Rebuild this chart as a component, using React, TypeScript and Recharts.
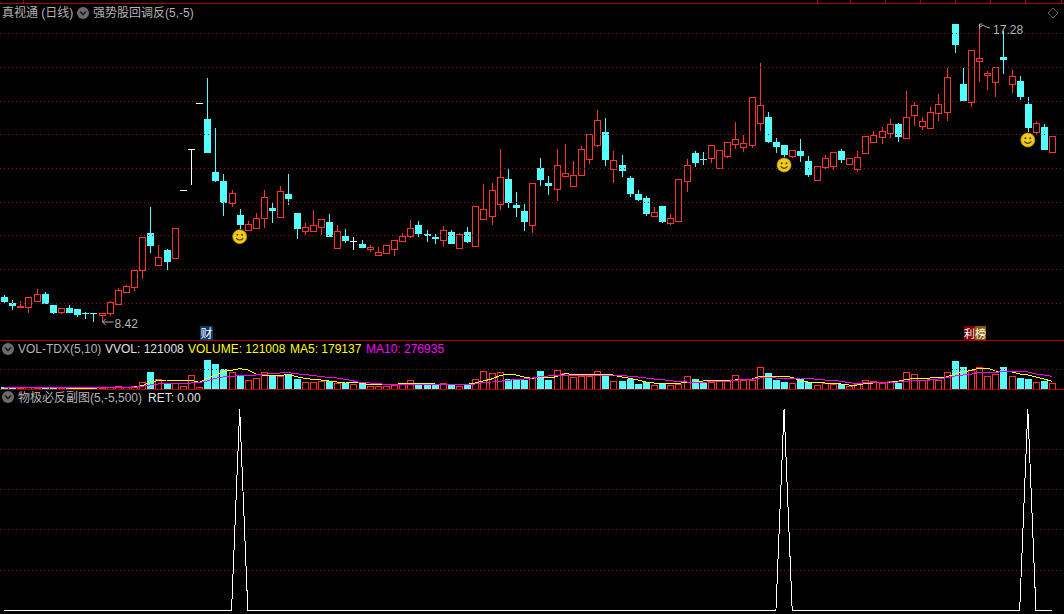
import React from 'react';
import {
  Bar,
  ComposedChart,
  Line,
  ReferenceDot,
  ReferenceLine,
  XAxis,
  YAxis,
} from 'recharts';

const highs = [
  9.23, 9.08, 9.05, 9.16, 9.41, 9.31, 8.93, 8.83, 8.93, 8.81,
  8.71, 8.69, 8.7, 9.05, 9.43, 9.52, 9.98, 10.96, 11.87, 10.72,
  10.61, 11.23, 12.37, 13.6, 14.98, 15.74, 14.24, 12.86, 12.37, 11.8,
  11.44, 11.68, 12.37, 12.02, 12.49, 12.86, 11.69, 11.38, 11.78, 11.5,
  11.66, 11.33, 11.21, 10.98, 10.88, 10.73, 10.66, 10.72, 10.87, 11.09,
  11.48, 11.45, 11.18, 11.06, 11.3, 11.18, 11.08, 11.27, 11.89, 12.56,
  12.59, 13.61, 13.04, 12.32, 11.96, 12.58, 13.34, 12.8, 13.61, 13.76,
  13.25, 13.7, 14.05, 14.78, 14.54, 13.55, 13.43, 12.8, 12.38, 12.2,
  11.87, 11.9, 11.66, 12.7, 13.31, 13.55, 13.52, 13.72, 13.57, 13.81,
  14.42, 14.03, 15.16, 16.19, 14.72, 13.93, 13.73, 13.58, 13.91, 13.4,
  13.09, 13.43, 13.51, 13.61, 13.33, 13.55, 14.0, 14.15, 14.27, 14.51,
  14.39, 15.35, 15.02, 14.57, 14.87, 15.26, 16.04, 17.36, 16.04, 16.57,
  17.36, 15.95, 16.06, 17.15, 15.99, 15.8, 15.17, 14.45, 14.36, 14.0,
];
const opens = [
  9.18, 8.99, 8.86, 8.86, 9.06, 9.26, 8.93, 8.71, 8.83, 8.81,
  8.7, 8.69, 8.64, 8.68, 8.97, 9.33, 9.46, 9.97, 11.09, 10.14,
  10.58, 10.33, 12.37, 13.6, 14.98, 14.51, 12.91, 12.64, 12.0, 11.63,
  11.19, 11.25, 11.53, 11.84, 11.58, 12.26, 11.69, 11.14, 11.16, 11.26,
  11.42, 10.65, 11.0, 10.84, 10.76, 10.62, 10.44, 10.5, 10.62, 10.86,
  11.01, 11.33, 11.06, 10.97, 10.89, 11.12, 10.65, 11.12, 10.71, 11.52,
  11.61, 11.97, 12.71, 11.93, 11.75, 11.34, 13.04, 12.59, 12.42, 12.81,
  12.51, 12.84, 13.32, 13.74, 14.12, 13.02, 13.13, 12.74, 12.26, 12.14,
  11.61, 11.9, 11.4, 11.46, 12.66, 13.49, 13.32, 13.35, 13.05, 13.41,
  13.77, 13.68, 13.74, 14.4, 14.57, 13.82, 13.73, 13.4, 13.55, 13.25,
  12.69, 13.08, 13.11, 13.55, 13.17, 13.02, 13.5, 13.83, 13.98, 14.1,
  14.36, 13.95, 14.64, 14.31, 14.24, 14.7, 14.73, 17.36, 15.56, 15.03,
  16.25, 15.83, 15.63, 16.37, 15.57, 15.65, 14.96, 14.12, 14.27, 13.52,
];
const closes = [
  9.03, 8.91, 8.9, 9.16, 9.25, 8.97, 8.7, 8.83, 8.7, 8.63,
  8.69, 8.68, 8.69, 9.03, 9.37, 9.49, 9.97, 10.96, 10.71, 10.36,
  10.23, 11.23, 12.37, 13.6, 14.98, 13.5, 12.66, 12.0, 12.28, 11.34,
  11.35, 11.53, 12.16, 11.76, 12.34, 12.12, 11.22, 11.26, 11.32, 11.5,
  10.98, 11.14, 10.86, 10.84, 10.64, 10.67, 10.51, 10.72, 10.87, 10.99,
  11.23, 11.06, 11.0, 10.92, 11.17, 10.76, 11.05, 10.82, 11.89, 11.8,
  12.37, 12.76, 11.99, 11.84, 11.42, 12.58, 12.68, 12.5, 13.12, 12.88,
  12.82, 13.6, 14.05, 14.47, 13.28, 13.27, 12.95, 12.26, 12.08, 11.66,
  11.71, 11.42, 11.53, 12.7, 13.12, 13.19, 13.29, 13.72, 13.57, 13.81,
  13.9, 13.78, 15.16, 14.92, 13.82, 13.67, 13.43, 13.57, 13.4, 12.83,
  13.09, 13.33, 13.51, 13.28, 13.33, 13.36, 13.99, 14.02, 14.14, 14.35,
  13.97, 14.56, 14.92, 14.44, 14.71, 14.95, 15.76, 16.73, 15.05, 16.57,
  16.33, 15.89, 16.06, 16.28, 15.79, 15.17, 14.24, 14.38, 13.58, 14.0,
];
const lows = [
  9.0, 8.78, 8.86, 8.7, 9.06, 8.97, 8.66, 8.67, 8.7, 8.58,
  8.51, 8.43, 8.42, 8.61, 8.93, 9.33, 9.35, 9.72, 10.49, 10.14,
  9.99, 10.33, 12.37, 12.54, 14.98, 13.5, 12.63, 11.61, 11.88, 11.22,
  11.15, 11.25, 11.25, 11.4, 11.55, 11.94, 10.92, 11.03, 11.16, 11.02,
  10.98, 10.65, 10.79, 10.58, 10.64, 10.52, 10.44, 10.47, 10.4, 10.83,
  10.95, 10.97, 10.82, 10.76, 10.67, 10.76, 10.65, 10.79, 10.71, 11.52,
  11.33, 11.78, 11.84, 11.57, 11.15, 11.09, 12.5, 12.23, 12.05, 12.77,
  12.51, 12.84, 13.16, 13.67, 13.1, 12.59, 12.77, 12.17, 12.05, 11.6,
  11.61, 11.39, 11.33, 11.46, 12.32, 13.07, 13.13, 13.19, 13.03, 13.35,
  13.61, 13.52, 13.65, 14.15, 13.79, 13.49, 13.37, 13.34, 13.22, 12.77,
  12.69, 13.01, 12.98, 13.19, 13.17, 12.92, 13.47, 13.83, 13.76, 13.94,
  13.82, 13.91, 14.3, 14.18, 14.21, 14.45, 14.45, 16.49, 15.05, 14.87,
  15.62, 15.38, 15.17, 15.86, 15.29, 15.08, 14.12, 14.06, 13.58, 13.49,
];

// thousands of lots
const volumes = [
  42, 28, 21, 35, 28, 42, 28, 21, 28, 28,
  21, 21, 28, 42, 63, 35, 63, 147, 364, 210,
  126, 119, 70, 301, 42, 616, 518, 427, 364, 287,
  189, 231, 357, 280, 280, 308, 217, 147, 147, 175,
  175, 119, 126, 98, 98, 63, 56, 56, 77, 119,
  189, 98, 98, 77, 119, 84, 70, 91, 210, 378,
  336, 357, 210, 210, 182, 231, 385, 196, 399, 336,
  252, 280, 280, 378, 287, 168, 175, 210, 112, 140,
  84, 98, 84, 98, 273, 217, 140, 154, 161, 161,
  294, 196, 196, 462, 343, 196, 154, 126, 210, 154,
  84, 126, 105, 98, 63, 98, 189, 168, 133, 168,
  126, 357, 315, 196, 210, 196, 357, 595, 469, 399,
  462, 280, 322, 469, 280, 238, 217, 154, 175, 126,
];
const ma5 = [
  28, 28, 28, 28, 28, 28, 28, 28, 21, 21,
  21, 21, 28, 28, 28, 28, 42, 70, 147, 175,
  189, 189, 189, 189, 140, 224, 294, 364, 392, 427,
  399, 315, 287, 273, 287, 301, 259, 224, 203, 189,
  168, 147, 147, 140, 119, 91, 91, 98, 98, 112,
  119, 119, 119, 105, 98, 98, 98, 98, 126, 168,
  210, 280, 315, 294, 252, 224, 259, 231, 259, 322,
  308, 301, 315, 315, 301, 294, 252, 224, 189, 147,
  126, 126, 112, 119, 140, 147, 168, 189, 189, 189,
  189, 203, 203, 266, 266, 273, 273, 245, 168, 147,
  147, 126, 126, 105, 84, 84, 112, 126, 140, 140,
  161, 196, 224, 231, 231, 252, 252, 315, 357, 392,
  434, 441, 378, 371, 357, 315, 294, 252, 210, 161,
];
const ma10 = [
  28, 28, 28, 28, 28, 28, 28, 28, 28, 28,
  28, 28, 28, 28, 28, 28, 35, 56, 84, 105,
  112, 119, 119, 126, 133, 168, 224, 252, 266, 280,
  287, 294, 308, 322, 336, 343, 322, 301, 287, 259,
  245, 231, 203, 168, 133, 126, 112, 98, 98, 98,
  105, 105, 105, 105, 98, 105, 105, 105, 105, 140,
  147, 161, 182, 203, 210, 231, 259, 273, 280, 294,
  287, 287, 287, 294, 294, 294, 287, 266, 252, 231,
  210, 196, 175, 154, 147, 140, 140, 154, 154, 161,
  182, 203, 203, 231, 238, 231, 231, 231, 231, 224,
  203, 189, 189, 161, 133, 112, 133, 133, 140, 147,
  147, 161, 189, 189, 189, 210, 238, 273, 294, 308,
  357, 336, 343, 378, 378, 378, 357, 315, 294, 266,
];

const priceGrid = [17.075, 16.055, 15.035, 14.045, 13.025, 12.005, 11.015, 9.995, 8.975];
const volumeGrid = [420];
const retGrid = [100, 200, 300, 400];

// signal days, as indexes into the arrays above
const signalDays = [29, 96, 126];
const smilePrices = [10.98, 13.13, 13.88];
const retSignal = 500;

const lowDay = 12;
const lowPrice = 8.42;
const highDay = 120;
const highPrice = 17.36;

const topTicks = [23, 817, 850, 885, 920, 955, 990, 1025, 1061];

const days = highs.map((_, i) => i);
const rows = days.map((day, i) => ({
  day,
  range: [lows[i], highs[i]],
  open: opens[i],
  close: closes[i],
  high: highs[i],
  low: lows[i],
  volume: volumes[i],
  ma5: ma5[i],
  ma10: ma10[i],
  ret: signalDays.includes(i) ? retSignal : 0,
}));

const RED = '#ff3232';
const CYAN = '#54ffff';
const GRID = '#861818';
const BORDER = '#b00000';
const CHART_W = 1064;
const axisPad = { left: 0, right: 7.75 };

// red bodies are hollow: a 1px frame cut out of a 7px wide block
const framePath = (left: number, top: number, h: number) =>
  h <= 2
    ? `M${left} ${top}h7v${h}h-7z`
    : `M${left} ${top}h7v${h}h-7zM${left + 1} ${top + 1}h5v${h - 2}h-5z`;

const Candle = (props: any) => {
  const { x, y, width, height, payload } = props;
  const { open, close, high, low } = payload;
  const cx = Math.floor(x + width / 2);
  const h = Math.abs(height || 0);
  const k = high > low ? h / (high - low) : 0;
  const yHigh = Math.round(y);
  const yLow = Math.round(y + h);
  const yTop = Math.round(y + (high - Math.max(open, close)) * k);
  const yBot = Math.round(y + (high - Math.min(open, close)) * k);
  const doji = open === close;
  const up = close > open;
  const color = doji ? '#ffffff' : up ? RED : CYAN;
  return (
    <g shapeRendering="crispEdges">
      {yTop > yHigh && <rect x={cx} y={yHigh} width={1} height={yTop - yHigh} fill={color} />}
      {yLow > yBot && <rect x={cx} y={yBot} width={1} height={yLow - yBot} fill={color} />}
      {doji && <rect x={cx - 3} y={yTop} width={7} height={1} fill={color} />}
      {!doji && !up && (
        <rect x={cx - 3} y={yTop} width={7} height={Math.max(yBot - yTop, 1)} fill={color} />
      )}
      {!doji && up && (
        <path d={framePath(cx - 3, yTop, Math.max(yBot - yTop + 1, 2))} fill={color} fillRule="evenodd" />
      )}
    </g>
  );
};

const VolumeBar = (props: any) => {
  const { x, y, width, height, payload } = props;
  const cx = Math.floor(x + width / 2);
  const top = Math.round(y);
  const bottom = Math.round(y + height);
  if (payload.close < payload.open) {
    return (
      <rect x={cx - 3} y={top} width={7} height={bottom - top} fill={CYAN} shapeRendering="crispEdges" />
    );
  }
  return (
    <path
      d={framePath(cx - 3, top, bottom - top + 1)}
      fill={RED}
      fillRule="evenodd"
      shapeRendering="crispEdges"
    />
  );
};

const Smiley = ({ cx, cy }: any) => (
  <g transform={`translate(${cx},${cy})`}>
    <circle r={7} fill="#f2cb14" stroke="#b8930c" strokeWidth={0.8} />
    <circle cx={-2.4} cy={-1.8} r={1} fill="#4a3a00" />
    <circle cx={2.4} cy={-1.8} r={1} fill="#4a3a00" />
    <path d="M-3.6 1.4 Q0 5.4 3.6 1.4" fill="none" stroke="#4a3a00" strokeWidth={1.1} />
  </g>
);

const LowMark = ({ cx, cy }: any) => (
  <g>
    <path
      d={`M${cx + 1} ${cy}H${cx + 12}M${cx + 4} ${cy - 3}L${cx + 1} ${cy}L${cx + 4} ${cy + 3}`}
      fill="none"
      stroke="#b0b0b0"
    />
    <text x={cx + 13} y={cy + 6} fill="#b4b4b4" fontSize={12} fontFamily="Liberation Sans">
      {lowPrice}
    </text>
  </g>
);

const HighMark = ({ cx, cy }: any) => (
  <g>
    <path
      d={`M${cx + 0.5} ${cy + 5}V${cy}H${cx + 3}M${cx + 1} ${cy + 3}L${cx + 4} ${cy + 1}L${cx + 7} ${cy + 3}L${cx + 11} ${cy + 4}`}
      fill="none"
      stroke="#b0b0b0"
    />
    <text x={cx + 14} y={cy + 10} fill="#b4b4b4" fontSize={12} fontFamily="Liberation Sans">
      17.28
    </text>
  </g>
);

const Label = ({ x, y, color, children }: any) => (
  <div
    style={{
      position: 'absolute',
      left: x,
      top: y,
      color,
      fontSize: 12,
      lineHeight: '14px',
      whiteSpace: 'nowrap',
      fontFamily: '"Liberation Sans", "Noto Sans CJK SC", sans-serif',
    }}>
    {children}
  </div>
);

const Chevron = ({ x, y }: any) => (
  <svg style={{ position: 'absolute', left: x - 6, top: y - 6 }} width={12} height={12}>
    <circle cx={6} cy={6} r={6} fill="#6a6a6a" />
    <path d="M3 4.5 L6 7.5 L9 4.5" fill="none" stroke="#1c1c1c" strokeWidth={1.6} />
  </svg>
);

const Tag = ({ x, w, size, bg, children }: any) => (
  <div
    style={{
      position: 'absolute',
      left: x,
      top: 326,
      width: w,
      height: 14,
      background: bg,
      color: '#ffffff',
      fontSize: size,
      lineHeight: '14px',
      textAlign: 'center',
      fontFamily: '"Noto Sans CJK SC", sans-serif',
    }}>
    {children}
  </div>
);

const Rule = ({ y }: any) => (
  <div style={{ position: 'absolute', left: 0, top: y, width: 1064, height: 1, background: BORDER }} />
);

export default function App() {
  return (
    <div
      style={{
        position: 'absolute',
        left: 0,
        top: 0,
        width: 1064,
        height: 614,
        background: '#000',
        overflow: 'hidden',
      }}>
      <div style={{ position: 'absolute', left: 0, top: 0 }}>
        <ComposedChart
          width={CHART_W}
          height={340}
          data={rows}
          margin={{ top: 0, right: 0, bottom: 0, left: 0 }}>
          <XAxis dataKey="day" hide scale="band" padding={axisPad} />
          <YAxis hide domain={[7.88, 18.08]} />
          {priceGrid.map((p) => (
            <ReferenceLine key={p} y={p} stroke={GRID} strokeDasharray="1 3" shapeRendering="crispEdges" />
          ))}
          <Bar dataKey="range" barSize={7} shape={Candle} isAnimationActive={false} />
          {signalDays.map((d, i) => (
            <ReferenceDot key={d} x={d} y={smilePrices[i]} shape={Smiley} />
          ))}
          <ReferenceDot x={lowDay} y={lowPrice} shape={LowMark} />
          <ReferenceDot x={highDay} y={highPrice} shape={HighMark} />
        </ComposedChart>
      </div>

      <div style={{ position: 'absolute', left: 0, top: 340 }}>
        <ComposedChart
          width={CHART_W}
          height={49}
          data={rows}
          margin={{ top: 0, right: 0, bottom: 0, left: 0 }}>
          <XAxis dataKey="day" hide scale="band" padding={axisPad} />
          <YAxis hide domain={[0, 1029]} />
          {volumeGrid.map((v) => (
            <ReferenceLine key={v} y={v} stroke={GRID} strokeDasharray="1 3" shapeRendering="crispEdges" />
          ))}
          <Bar dataKey="volume" barSize={7} shape={VolumeBar} isAnimationActive={false} />
          <Line dataKey="ma5" stroke="#ffff00" strokeWidth={1} dot={false} isAnimationActive={false} shapeRendering="crispEdges" />
          <Line dataKey="ma10" stroke="#ff00ff" strokeWidth={1} dot={false} isAnimationActive={false} shapeRendering="crispEdges" />
        </ComposedChart>
      </div>

      <div style={{ position: 'absolute', left: 0, top: 390 }}>
        <ComposedChart
          width={CHART_W}
          height={224}
          data={rows}
          margin={{ top: 0, right: 0, bottom: 0, left: 0 }}>
          <XAxis dataKey="day" hide scale="band" padding={axisPad} />
          <YAxis hide domain={[-8.7, 547.1]} />
          {retGrid.map((v) => (
            <ReferenceLine key={v} y={v} stroke={GRID} strokeDasharray="1 3" shapeRendering="crispEdges" />
          ))}
          <Line dataKey="ret" stroke="#ffffff" strokeWidth={1} dot={false} isAnimationActive={false} shapeRendering="crispEdges" />
        </ComposedChart>
      </div>

      <Rule y={3} />
      {topTicks.map((x) => (
        <div key={x} style={{ position: 'absolute', left: x, top: 0, width: 1, height: 3, background: BORDER }} />
      ))}
      <Rule y={340} />
      <Rule y={389} />

      <Label x={2} y={6} color="#b4b4b4">真视通 (日线)</Label>
      <Chevron x={83} y={13} />
      <Label x={93} y={6} color="#b4b4b4">强势股回调反(5,-5)</Label>
      <svg style={{ position: 'absolute', left: 1047, top: 7 }} width={12} height={12}>
        <path d="M6 1 L11 6 L6 11 L1 6 Z" fill="none" stroke="#5c5c5c" />
      </svg>

      <Tag x={200} w={13} size={12} bg="#0b3a68">财</Tag>
      <Tag x={964} w={11} size={11} bg="#7c0000">利</Tag>
      <Tag x={975} w={11} size={11} bg="#8a5a00">榜</Tag>

      <Chevron x={8} y={349} />
      <Label x={18} y={342} color="#b4b4b4">VOL-TDX(5,10)</Label>
      <Label x={105} y={342} color="#e0e0e0">VVOL: 121008</Label>
      <Label x={188} y={342} color="#ffff00">VOLUME: 121008</Label>
      <Label x={290} y={342} color="#ffff00">MA5: 179137</Label>
      <Label x={366} y={342} color="#ff00ff">MA10: 276935</Label>

      <Chevron x={8} y={397} />
      <Label x={18} y={391} color="#b4b4b4">物极必反副图(5,-5,500)</Label>
      <Label x={148} y={391} color="#e0e0e0">RET: 0.00</Label>
    </div>
  );
}
